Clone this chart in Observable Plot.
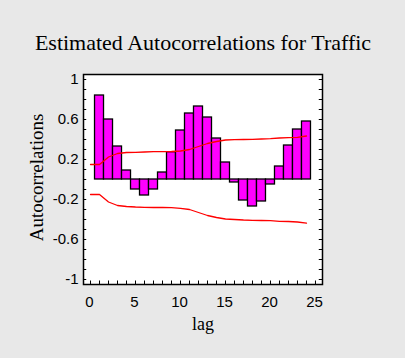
<!DOCTYPE html>
<html>
<head>
<meta charset="utf-8">
<script src="https://cdn.jsdelivr.net/npm/d3@7"></script>
<script src="https://cdn.jsdelivr.net/npm/@observablehq/plot@0.6"></script>
<style>
  html, body { margin: 0; padding: 0; background: #e8e8e8; }
</style>
</head>
<body>
<div id="chart"></div>
<script>
const title = "Estimated Autocorrelations for Traffic";
const xLabel = "lag";
const yLabel = "Autocorrelations";

const lags = [1,2,3,4,5,6,7,8,9,10,11,12,13,14,15,16,17,18,19,20,21,22,23,24];
const acf  = [0.84,0.60,0.33,0.09,-0.10,-0.16,-0.10,0.07,0.273,0.49,0.66,0.73,0.62,0.41,0.17,-0.03,-0.21,-0.27,-0.22,-0.05,0.13,0.34,0.50,0.58];

const limitLags = [0,1,2,3,4,5,6,7,8,9,10,11,12,13,14,15,16,17,18,19,20,21,22,23,24];
const upperLimit = [0.15,0.15,0.225,0.26,0.27,0.272,0.275,0.278,0.278,0.28,0.285,0.30,0.33,0.36,0.38,0.395,0.398,0.40,0.402,0.405,0.408,0.415,0.418,0.422,0.435];
const lowerLimit = [-0.15,-0.15,-0.225,-0.26,-0.27,-0.275,-0.278,-0.28,-0.28,-0.282,-0.288,-0.30,-0.33,-0.36,-0.38,-0.395,-0.40,-0.405,-0.408,-0.41,-0.412,-0.418,-0.42,-0.425,-0.437];

const xTickLabels = [0,5,10,15,20,25];
const yTickLabels = [-1,-0.6,-0.2,0.2,0.6,1];
const xMinorTicks = d3.range(0, 26);
const yMinorTicks = d3.range(-10, 11).map(d => d / 10);

const xDomain = [-0.78, 25.78];
const yDomain = [-1.05, 1.05];

const bars = lags.map((lag, i) => ({lag, value: acf[i]}));
const limits = limitLags.map((lag, i) => ({lag, upper: upperLimit[i], lower: lowerLimit[i]}));

const chart = Plot.plot({
  width: 405,
  height: 358,
  marginLeft: 83,
  marginRight: 83,
  marginTop: 74,
  marginBottom: 74,
  style: {background: "#e8e8e8", fontFamily: "'Liberation Sans', Arial, sans-serif", fontSize: "15px", color: "black"},
  x: {domain: xDomain},
  y: {domain: yDomain},
  marks: [
    Plot.frame({fill: "white"}),
    Plot.rectY(bars, {x1: d => d.lag - 0.5, x2: d => d.lag + 0.5, y: "value", fill: "#ff00ff", stroke: "black", strokeWidth: 1.3}),
    Plot.line(limits, {x: "lag", y: "upper", stroke: "red", strokeWidth: 1.3}),
    Plot.line(limits, {x: "lag", y: "lower", stroke: "red", strokeWidth: 1.3}),
    Plot.ruleY(yMinorTicks, {y: d => d, x1: xDomain[0], x2: xDomain[0] + 0.36, stroke: "black"}),
    Plot.ruleY(yMinorTicks, {y: d => d, x1: xDomain[1] - 0.36, x2: xDomain[1], stroke: "black"}),
    Plot.ruleX(xMinorTicks, {x: d => d, y1: yDomain[0], y2: yDomain[0] + 0.035, stroke: "black"}),
    Plot.frame({stroke: "black", strokeWidth: 1.5}),
    Plot.axisY({ticks: yTickLabels, tickSize: 0, tickPadding: 5, tickFormat: d => String(d), label: null, fill: "black"}),
    Plot.axisX({ticks: xTickLabels, tickSize: 0, tickPadding: 12, tickFormat: d => String(d), label: null, fill: "black", dx: -1}),
    Plot.text([title], {frameAnchor: "top", dy: -32, lineAnchor: "middle", fontFamily: "'Liberation Serif', 'Times New Roman', serif", fontSize: 22, fill: "black"}),
    Plot.text([xLabel], {frameAnchor: "bottom", dy: 40, lineAnchor: "middle", fontFamily: "'Liberation Serif', 'Times New Roman', serif", fontSize: 18, fill: "black"}),
    Plot.text([yLabel], {frameAnchor: "left", dx: -47, dy: -2, rotate: -90, textAnchor: "middle", lineAnchor: "middle", fontFamily: "'Liberation Serif', 'Times New Roman', serif", fontSize: 19, fill: "black"})
  ]
});
document.getElementById("chart").appendChild(chart);
</script>
</body>
</html>
